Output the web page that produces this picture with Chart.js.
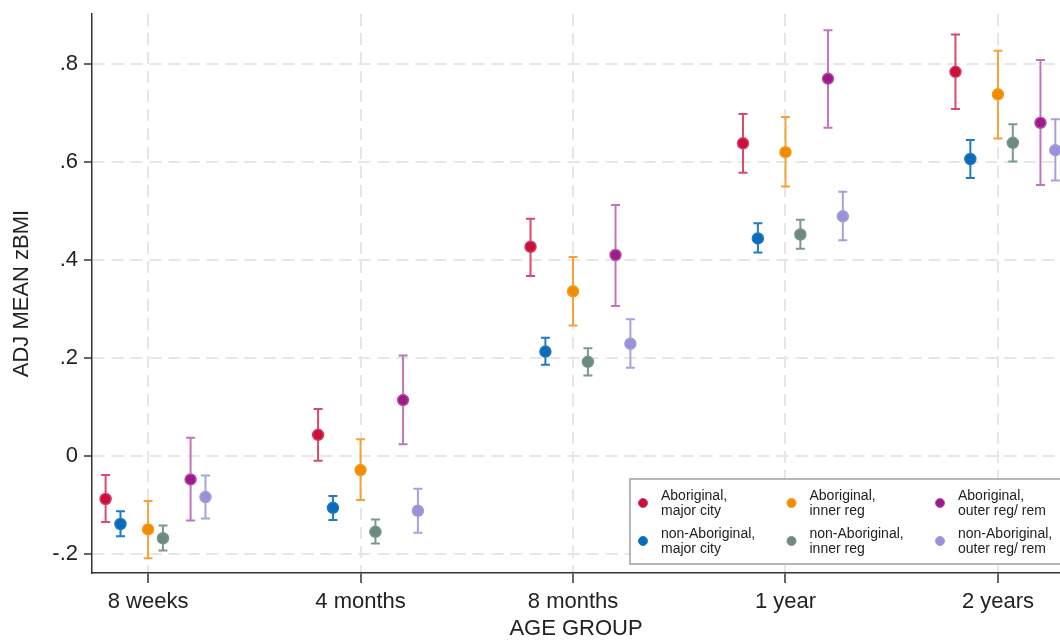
<!DOCTYPE html>
<html>
<head>
<meta charset="utf-8">
<script src="https://cdn.jsdelivr.net/npm/chart.js@4.4.0/dist/chart.umd.min.js"></script>
<style>
  html, body { margin: 0; padding: 0; background: #fff; }
</style>
</head>
<body>
<canvas id="myChart" width="1060" height="640"></canvas>
<script>
// categories and y tick labels
const ageGroups = ['8 weeks', '4 months', '8 months', '1 year', '2 years'];
const yTicks = [-0.2, 0, 0.2, 0.4, 0.6, 0.8];
const yTickLabels = ['-.2', '0', '.2', '.4', '.6', '.8'];

// adjusted means with 95% CI, one array per group
const abMajorMean = [-0.088, 0.043, 0.427, 0.638, 0.784];
const abMajorLo   = [-0.135, -0.010, 0.367, 0.578, 0.708];
const abMajorHi   = [-0.039, 0.096, 0.484, 0.698, 0.860];

const nonMajorMean = [-0.139, -0.106, 0.213, 0.444, 0.606];
const nonMajorLo   = [-0.164, -0.131, 0.186, 0.415, 0.567];
const nonMajorHi   = [-0.113, -0.082, 0.241, 0.475, 0.645];

const abInnerMean = [-0.150, -0.029, 0.336, 0.620, 0.738];
const abInnerLo   = [-0.209, -0.090, 0.266, 0.550, 0.648];
const abInnerHi   = [-0.092, 0.034, 0.406, 0.692, 0.827];

const nonInnerMean = [-0.168, -0.155, 0.192, 0.452, 0.639];
const nonInnerLo   = [-0.193, -0.179, 0.164, 0.423, 0.601];
const nonInnerHi   = [-0.142, -0.130, 0.220, 0.482, 0.677];

const abOuterMean = [-0.048, 0.114, 0.410, 0.770, 0.680];
const abOuterLo   = [-0.132, 0.024, 0.306, 0.670, 0.553];
const abOuterHi   = [0.037, 0.205, 0.512, 0.869, 0.808];

const nonOuterMean = [-0.084, -0.112, 0.229, 0.489, 0.624];
const nonOuterLo   = [-0.128, -0.157, 0.180, 0.440, 0.562];
const nonOuterHi   = [-0.040, -0.067, 0.279, 0.539, 0.687];

// series: label, values, horizontal offset inside a group, colours
const series = [
  { label: 'Aboriginal, major city', mean: abMajorMean, lo: abMajorLo, hi: abMajorHi, off: -0.2, col: '#c8103a', ring: '#d43d66', bar: '#da4a6c' },
  { label: 'non-Aboriginal, major city', mean: nonMajorMean, lo: nonMajorLo, hi: nonMajorHi, off: -0.13, col: '#0a6cb8', ring: '#1f78c0', bar: '#1f7cc4' },
  { label: 'Aboriginal, inner reg', mean: abInnerMean, lo: abInnerLo, hi: abInnerHi, off: 0, col: '#f08c00', ring: '#f49a22', bar: '#f6a23a' },
  { label: 'non-Aboriginal, inner reg', mean: nonInnerMean, lo: nonInnerLo, hi: nonInnerHi, off: 0.07, col: '#6c8a80', ring: '#78958b', bar: '#7d988f' },
  { label: 'Aboriginal, outer reg/ rem', mean: abOuterMean, lo: abOuterLo, hi: abOuterHi, off: 0.2, col: '#9c1a8a', ring: '#b553a6', bar: '#c475b9' },
  { label: 'non-Aboriginal, outer reg/ rem', mean: nonOuterMean, lo: nonOuterLo, hi: nonOuterHi, off: 0.27, col: '#9a92d8', ring: '#a29bdc', bar: '#a8a0df' }
];

// legend order (two rows of three)
const legendOrder = [0, 2, 4, 1, 3, 5];

Chart.defaults.font.family = '"Liberation Sans", Arial, sans-serif';
Chart.defaults.color = '#222';

const datasets = series.map(s => ({
  label: s.label,
  data: s.mean.map((v, i) => ({ x: i + 1 + s.off, y: v, lo: s.lo[i], hi: s.hi[i] })),
  backgroundColor: s.col,
  borderColor: s.ring,
  pointRadius: 5.5,
  pointBorderWidth: 1.5,
  barColor: s.bar,
  showLine: false
}));

const errorBars = {
  id: 'errorBars',
  beforeDatasetsDraw(chart) {
    const { ctx, scales: { x, y } } = chart;
    chart.data.datasets.forEach(ds => {
      ctx.save();
      ctx.strokeStyle = ds.barColor;
      ctx.lineWidth = 2;
      ds.data.forEach(p => {
        const px = x.getPixelForValue(p.x);
        const top = y.getPixelForValue(p.hi);
        const bot = y.getPixelForValue(p.lo);
        ctx.beginPath();
        ctx.moveTo(px, top); ctx.lineTo(px, bot);
        ctx.moveTo(px - 4.5, top); ctx.lineTo(px + 4.5, top);
        ctx.moveTo(px - 4.5, bot); ctx.lineTo(px + 4.5, bot);
        ctx.stroke();
      });
      ctx.restore();
    });
  }
};

const boxLegend = {
  id: 'boxLegend',
  afterDraw(chart) {
    const ctx = chart.ctx;
    ctx.save();
    ctx.fillStyle = '#fff';
    ctx.strokeStyle = '#a0a0a0';
    ctx.lineWidth = 1.5;
    ctx.fillRect(630, 479, 440, 85);
    ctx.strokeRect(630, 479, 440, 85);
    ctx.font = '14px "Liberation Sans", Arial, sans-serif';
    ctx.textBaseline = 'middle';
    ctx.textAlign = 'left';
    legendOrder.forEach((si, k) => {
      const s = series[si];
      const col = k % 3, row = Math.floor(k / 3);
      const mx = 643 + col * 148.5;
      const my = 503 + row * 38;
      ctx.beginPath();
      ctx.arc(mx, my, 4.5, 0, Math.PI * 2);
      ctx.fillStyle = s.col;
      ctx.fill();
      ctx.lineWidth = 1;
      ctx.strokeStyle = s.ring;
      ctx.stroke();
      const parts = s.label.split(', ');
      ctx.fillStyle = '#222';
      ctx.fillText(parts[0] + ',', mx + 18, my - 7);
      ctx.fillText(parts[1], mx + 18, my + 8);
    });
    ctx.restore();
  }
};

const tickFont = { size: 22 };

const config = {
  type: 'scatter',
  data: { datasets: datasets },
  options: {
    responsive: false,
    animation: false,
    layout: { autoPadding: false, padding: { top: 14, right: 0, left: 0, bottom: 0 } },
    plugins: { legend: { display: false }, tooltip: { enabled: false } },
    scales: {
      x: {
        type: 'linear',
        min: 0.736,
        max: 5.292,
        afterBuildTicks: axis => { axis.ticks = ageGroups.map((g, i) => ({ value: i + 1 })); },
        afterFit: axis => { axis.height = 67; axis.paddingLeft = 0; axis.paddingRight = 0; },
        ticks: {
          font: tickFont,
          color: '#222',
          padding: 6,
          maxRotation: 0,
          autoSkip: false,
          callback: v => ageGroups[Math.round(v) - 1]
        },
        grid: {
          color: '#e6e6e6',
          lineWidth: 2,
          tickColor: '#333',
          tickWidth: 1.5,
          tickLength: 10,
          tickBorderDash: []
        },
        border: { color: '#333', width: 1.5, dash: [12, 7] },
        title: {
          display: true,
          text: 'AGE GROUP',
          font: { size: 22, lineHeight: 1 },
          color: '#222',
          padding: { top: 0, bottom: 0 }
        }
      },
      y: {
        type: 'linear',
        min: -0.239,
        max: 0.902,
        afterBuildTicks: axis => { axis.ticks = yTicks.map(v => ({ value: v })); },
        afterFit: axis => { axis.width = 92; axis.paddingTop = 0; axis.paddingBottom = 0; },
        ticks: {
          font: tickFont,
          color: '#222',
          padding: 6,
          callback: v => yTickLabels[yTicks.findIndex(t => Math.abs(t - v) < 1e-6)]
        },
        grid: {
          color: '#e6e6e6',
          lineWidth: 2,
          tickColor: '#333',
          tickWidth: 1.5,
          tickLength: 8,
          tickBorderDash: []
        },
        border: { color: '#333', width: 1.5, dash: [12, 7] },
        title: {
          display: true,
          text: 'ADJ MEAN zBMI',
          font: { size: 22, lineHeight: 1 },
          color: '#222',
          padding: { top: 11, bottom: 0 }
        }
      }
    }
  },
  plugins: [errorBars, boxLegend]
};

const myChart = new Chart(document.getElementById('myChart').getContext('2d'), config);
</script>
</body>
</html>
